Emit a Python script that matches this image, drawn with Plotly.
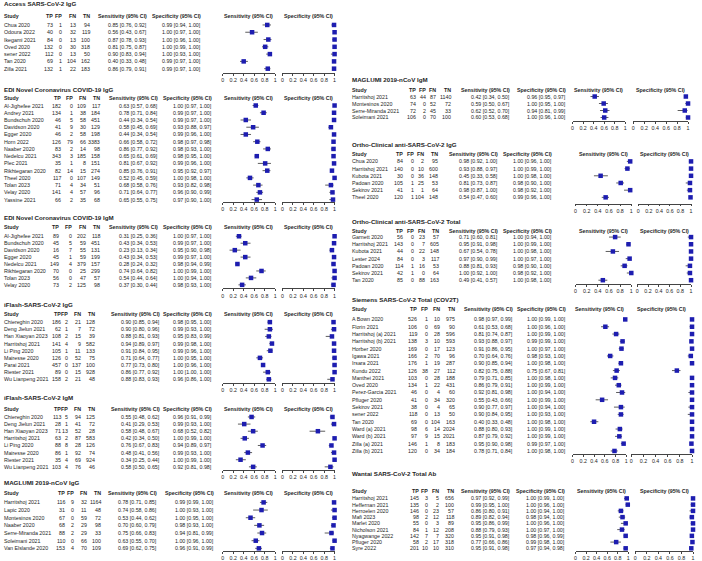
import plotly.graph_objects as go

W, H = 702, 561

# ---------------- DATA (study, TP, FP, FN, TN, sens, sens_lo, sens_hi, spec, spec_lo, spec_hi)
ACCESS_IGG = [
    ("Chua 2020", 73, 1, 13, 94, 0.85, 0.76, 0.92, 0.99, 0.94, 1.00),
    ("Odoura 2022", 40, 0, 32, 119, 0.56, 0.43, 0.67, 1.00, 0.97, 1.00),
    ("Ikegami 2021", 84, 0, 13, 100, 0.87, 0.78, 0.93, 1.00, 0.96, 1.00),
    ("Oved 2020", 132, 0, 30, 318, 0.81, 0.75, 0.87, 1.00, 0.99, 1.00),
    ("sener 2022", 112, 0, 13, 50, 0.90, 0.83, 0.94, 1.00, 0.93, 1.00),
    ("Tan 2020", 69, 1, 104, 162, 0.40, 0.33, 0.48, 0.99, 0.97, 1.00),
    ("Zilla 2021", 132, 1, 22, 183, 0.86, 0.79, 0.91, 0.99, 0.97, 1.00),
]
EDI_IGG = [
    ("Al-Jighefee 2021", 182, 0, 109, 117, 0.63, 0.57, 0.68, 1.00, 0.97, 1.00),
    ("Andrey 2021", 134, 1, 38, 184, 0.78, 0.71, 0.84, 0.99, 0.97, 1.00),
    ("Bundschuh 2020", 46, 5, 58, 451, 0.44, 0.34, 0.54, 0.99, 0.97, 1.00),
    ("Davidson 2020", 41, 9, 30, 129, 0.58, 0.45, 0.69, 0.93, 0.88, 0.97),
    ("Egger 2020", 46, 2, 58, 198, 0.44, 0.34, 0.54, 0.99, 0.96, 1.00),
    ("Horn 2022", 126, 79, 66, 3383, 0.66, 0.58, 0.72, 0.98, 0.97, 0.98),
    ("Naaber 2020", 83, 2, 14, 98, 0.86, 0.77, 0.92, 0.98, 0.93, 1.00),
    ("Nedelcu 2021", 343, 3, 185, 158, 0.65, 0.61, 0.69, 0.98, 0.95, 1.00),
    ("Plec 2021", 35, 1, 8, 151, 0.81, 0.67, 0.92, 0.99, 0.96, 1.00),
    ("Rikhtegaran 2020", 82, 14, 15, 274, 0.85, 0.76, 0.91, 0.95, 0.92, 0.97),
    ("Theel 2020", 117, 0, 107, 149, 0.52, 0.45, 0.59, 1.00, 0.98, 1.00),
    ("Tolan 2023", 71, 4, 34, 51, 0.68, 0.58, 0.76, 0.93, 0.82, 0.98),
    ("Velay 2020", 141, 4, 57, 96, 0.71, 0.64, 0.77, 0.96, 0.90, 0.99),
    ("Yassine 2021", 66, 2, 35, 68, 0.65, 0.55, 0.75, 0.97, 0.90, 1.00),
]
EDI_IGM = [
    ("Al-Jighefee 2021", 89, 0, 202, 118, 0.31, 0.25, 0.36, 1.00, 0.97, 1.00),
    ("Bundschuh 2020", 45, 5, 59, 451, 0.43, 0.34, 0.53, 0.99, 0.97, 1.00),
    ("Davidson 2020", 16, 7, 55, 131, 0.23, 0.13, 0.34, 0.95, 0.90, 0.98),
    ("Egger 2020", 45, 1, 59, 199, 0.43, 0.34, 0.53, 0.99, 0.97, 1.00),
    ("Nedelcu 2021", 149, 4, 379, 157, 0.28, 0.24, 0.32, 0.98, 0.94, 0.99),
    ("Rikhtegaran 2020", 70, 0, 25, 299, 0.74, 0.64, 0.82, 1.00, 0.99, 1.00),
    ("Tolan 2023", 56, 0, 47, 57, 0.54, 0.44, 0.64, 1.00, 0.94, 1.00),
    ("Velay 2020", 73, 2, 125, 98, 0.37, 0.30, 0.44, 0.98, 0.93, 1.00),
]
IFLASH_IGG = [
    ("Chiereghin 2020", 186, 2, 21, 128, 0.90, 0.85, 0.94, 0.98, 0.95, 1.00),
    ("Deng Jielun 2021", 62, 1, 7, 72, 0.90, 0.80, 0.96, 0.99, 0.93, 1.00),
    ("Han Xiaoyan 2023", 108, 2, 15, 39, 0.88, 0.81, 0.93, 0.95, 0.83, 0.99),
    ("Harritshoj 2021", 141, 4, 9, 582, 0.94, 0.89, 0.97, 0.99, 0.98, 1.00),
    ("Li Ping 2020", 105, 1, 11, 133, 0.91, 0.84, 0.95, 0.99, 0.96, 1.00),
    ("Mairesse 2020", 126, 0, 52, 75, 0.71, 0.64, 0.77, 1.00, 0.95, 1.00),
    ("Parai 2021", 457, 0, 137, 100, 0.77, 0.73, 0.80, 1.00, 0.96, 1.00),
    ("Riester 2021", 89, 0, 15, 928, 0.86, 0.77, 0.92, 1.00, 1.00, 1.00),
    ("Wu Lianpeng 2021", 158, 2, 21, 48, 0.88, 0.83, 0.93, 0.96, 0.86, 1.00),
]
IFLASH_IGM = [
    ("Chiereghin 2020", 113, 5, 94, 125, 0.55, 0.48, 0.62, 0.96, 0.91, 0.99),
    ("Deng Jielun 2021", 28, 1, 41, 72, 0.41, 0.29, 0.53, 0.99, 0.93, 1.00),
    ("Han Xiaoyan 2023", 71, 13, 52, 28, 0.58, 0.48, 0.67, 0.68, 0.52, 0.82),
    ("Harritshoj 2021", 63, 2, 87, 583, 0.42, 0.34, 0.50, 1.00, 0.99, 1.00),
    ("Li Ping 2020", 88, 8, 28, 126, 0.76, 0.67, 0.83, 0.94, 0.89, 0.97),
    ("Mairesse 2020", 86, 1, 92, 74, 0.48, 0.41, 0.56, 0.99, 0.93, 1.00),
    ("Riester 2021", 35, 4, 69, 924, 0.34, 0.25, 0.44, 1.00, 0.99, 1.00),
    ("Wu Lianpeng 2021", 103, 4, 76, 46, 0.58, 0.50, 0.65, 0.92, 0.81, 0.98),
]
MAGLUMI_IGG = [
    ("Harritshoj 2021", 116, 9, 32, 1164, 0.78, 0.71, 0.85, 0.99, 0.99, 1.00),
    ("Lapic 2020", 31, 0, 11, 48, 0.74, 0.58, 0.86, 1.00, 0.93, 1.00),
    ("Montesinos 2020", 67, 0, 59, 72, 0.53, 0.44, 0.62, 1.00, 0.95, 1.00),
    ("Naaber 2020", 68, 2, 29, 98, 0.70, 0.60, 0.79, 0.98, 0.93, 1.00),
    ("Serre-Miranda 2021", 88, 2, 29, 33, 0.75, 0.66, 0.83, 0.94, 0.81, 0.99),
    ("Soleimani 2021", 110, 0, 66, 100, 0.63, 0.55, 0.70, 1.00, 0.96, 1.00),
    ("Van Elslande 2020", 153, 4, 70, 109, 0.69, 0.62, 0.75, 0.96, 0.91, 0.99),
]
MAGLUMI_IGM = [
    ("Harritshoj 2021", 63, 44, 87, 1140, 0.42, 0.34, 0.50, 0.96, 0.95, 0.97),
    ("Montesinos 2020", 74, 0, 52, 72, 0.59, 0.50, 0.67, 1.00, 0.95, 1.00),
    ("Serre-Miranda 2021", 72, 2, 45, 33, 0.62, 0.52, 0.70, 0.94, 0.81, 0.99),
    ("Soleimani 2021", 106, 0, 70, 100, 0.60, 0.53, 0.68, 1.00, 0.96, 1.00),
]
ORTHO_IGG = [
    ("Chua 2020", 84, 0, 2, 95, 0.98, 0.92, 1.00, 1.00, 0.96, 1.00),
    ("Harritshoj 2021", 140, 0, 10, 600, 0.93, 0.88, 0.97, 1.00, 0.99, 1.00),
    ("Kubota 2021", 30, 0, 36, 148, 0.45, 0.33, 0.58, 1.00, 0.98, 1.00),
    ("Padoan 2020", 105, 1, 25, 53, 0.81, 0.73, 0.87, 0.98, 0.90, 1.00),
    ("Sekirov 2021", 41, 1, 1, 64, 0.98, 0.87, 1.00, 0.98, 0.92, 1.00),
    ("Theel 2020", 120, 1, 104, 148, 0.54, 0.47, 0.60, 0.99, 0.96, 1.00),
]
ORTHO_TOTAL = [
    ("Garnett 2020", 56, 0, 23, 57, 0.71, 0.60, 0.81, 1.00, 0.94, 1.00),
    ("Harritshoj 2021", 143, 0, 7, 605, 0.95, 0.91, 0.98, 1.00, 0.99, 1.00),
    ("Kubota 2021", 44, 0, 22, 148, 0.67, 0.54, 0.78, 1.00, 0.98, 1.00),
    ("Lester 2024", 84, 0, 3, 117, 0.97, 0.90, 0.99, 1.00, 0.97, 1.00),
    ("Padoan 2020", 114, 1, 16, 53, 0.88, 0.81, 0.93, 0.98, 0.90, 1.00),
    ("Sekirov 2021", 42, 1, 0, 64, 1.00, 0.92, 1.00, 0.98, 0.92, 1.00),
    ("Tan 2020", 85, 0, 88, 163, 0.49, 0.41, 0.57, 1.00, 0.98, 1.00),
]
SIEMENS_TOTAL = [
    ("A Bown 2020", 526, 1, 10, 975, 0.98, 0.97, 0.99, 1.00, 0.99, 1.00),
    ("Florin 2021", 106, 0, 69, 90, 0.61, 0.53, 0.68, 1.00, 0.96, 1.00),
    ("Harritshoj (a) 2021", 119, 0, 28, 596, 0.81, 0.74, 0.87, 1.00, 0.99, 1.00),
    ("Harritshoj (b) 2021", 138, 3, 10, 593, 0.93, 0.88, 0.97, 0.99, 0.99, 1.00),
    ("Horber 2020", 169, 0, 17, 123, 0.91, 0.86, 0.95, 1.00, 0.97, 1.00),
    ("Igawa 2021", 166, 2, 70, 96, 0.70, 0.64, 0.76, 0.98, 0.93, 1.00),
    ("Irsara 2021", 176, 1, 19, 287, 0.90, 0.85, 0.94, 1.00, 0.98, 1.00),
    ("Kundu 2022", 126, 38, 27, 112, 0.82, 0.75, 0.88, 0.75, 0.67, 0.81),
    ("Manthei 2021", 103, 0, 28, 188, 0.79, 0.71, 0.85, 1.00, 0.98, 1.00),
    ("Oved 2020", 134, 1, 22, 431, 0.86, 0.79, 0.91, 1.00, 0.99, 1.00),
    ("Perez-Garcia 2021", 46, 0, 4, 60, 0.92, 0.81, 0.98, 1.00, 0.94, 1.00),
    ("Pfluger 2020", 41, 0, 34, 320, 0.55, 0.43, 0.66, 1.00, 0.99, 1.00),
    ("Sekirov 2021", 38, 0, 4, 65, 0.90, 0.77, 0.97, 1.00, 0.94, 1.00),
    ("sener 2022", 118, 0, 13, 50, 0.90, 0.84, 0.95, 1.00, 0.93, 1.00),
    ("Tan 2020", 69, 0, 104, 163, 0.40, 0.33, 0.48, 1.00, 0.98, 1.00),
    ("Ward (a) 2021", 98, 6, 14, 2024, 0.88, 0.80, 0.93, 1.00, 0.99, 1.00),
    ("Ward (b) 2021", 97, 9, 15, 2021, 0.87, 0.79, 0.92, 1.00, 0.99, 1.00),
    ("Zilla (a) 2021", 146, 1, 8, 183, 0.95, 0.90, 0.98, 0.99, 0.97, 1.00),
    ("Zilla (b) 2021", 120, 0, 34, 184, 0.78, 0.71, 0.84, 1.00, 0.98, 1.00),
]
WANTAI_TOTAL = [
    ("Harritshoj 2021", 145, 3, 5, 656, 0.97, 0.92, 0.99, 1.00, 0.99, 1.00),
    ("Heffernan 2021", 135, 0, 2, 100, 0.99, 0.95, 1.00, 1.00, 0.96, 1.00),
    ("Herroelen 2020", 146, 0, 23, 57, 0.86, 0.80, 0.91, 1.00, 0.94, 1.00),
    ("Mafi 2023", 98, 2, 12, 118, 0.89, 0.82, 0.94, 0.98, 0.94, 1.00),
    ("Marlet 2020", 55, 0, 3, 89, 0.95, 0.86, 0.99, 1.00, 0.96, 1.00),
    ("Nicholson 2021", 84, 1, 12, 208, 0.88, 0.79, 0.93, 1.00, 0.97, 1.00),
    ("Nyagwange 2022", 142, 7, 7, 320, 0.95, 0.91, 0.98, 0.98, 0.96, 0.99),
    ("Pfluger 2020", 58, 2, 17, 318, 0.77, 0.66, 0.86, 0.99, 0.98, 1.00),
    ("Syre 2022", 201, 10, 10, 310, 0.95, 0.91, 0.98, 0.97, 0.94, 0.98),
]

TITLES = [
    "Access SARS-CoV-2 IgG", "EDI Novel Coronavirus COVID-19 IgG",
    "EDI Novel Coronavirus COVID-19 IgM", "iFlash-SARS-CoV-2 IgG",
    "iFlash-SARS-CoV-2 IgM", "MAGLUMI 2019-nCoV IgG", "MAGLUMI 2019-nCoV IgM",
    "Ortho-Clinical anti-SARS-CoV-2 IgG", "Ortho-Clinical anti-SARS-CoV-2 Total",
    "Siemens SARS-CoV-2 Total (COV2T)", "Wantai SARS-CoV-2 Total Ab",
]
DATASETS = [ACCESS_IGG, EDI_IGG, EDI_IGM, IFLASH_IGG, IFLASH_IGM, MAGLUMI_IGG,
            MAGLUMI_IGM, ORTHO_IGG, ORTHO_TOTAL, SIEMENS_TOTAL, WANTAI_TOTAL]
COL_HEADERS = ["TP", "FP", "FN", "TN"]
TICK_VALS = [0, 0.2, 0.4, 0.6, 0.8, 1]
TICK_TEXT = ["0", "0.2", "0.4", "0.6", "0.8", "1"]

# ---------------- LAYOUT (pixel positions of each panel)
# title_y, header_y, row0, row_h, axis_y, study_x, [tp,fp,fn,tn right], sens_r, spec_r, (sens axis x0,x1), (spec axis x0,x1)
POS = [
    (4, 16, 25.0, 7.3, 73, 2, [53, 62, 76, 90], 148, 202, (222.7, 275.3), (282.7, 335)),
    (90, 98, 105.7, 7.25, 202.5, 2, [61, 73, 86, 100.5], 159, 213, (222.7, 275.3), (282.7, 335)),
    (218, 227.5, 236.7, 6.95, 289, 2, [59, 72, 86, 100.5], 159, 213, (222.7, 275.3), (282.7, 335)),
    (305, 315, 322.7, 7.16, 383.5, 2, [61, 68, 81, 95], 160.7, 213, (222.7, 275.3), (282.7, 335)),
    (398.5, 410, 417.7, 7.14, 471, 2, [61, 68, 81, 95], 160.7, 213, (222.7, 275.3), (282.7, 335)),
    (483.5, 493.5, 503.3, 7.67, 552, 2, [65, 74.5, 87, 101], 158, 215, (222.7, 275.3), (282.7, 335)),
    (80, 90, 96.7, 7.0, 121, 352, [418, 427.5, 438, 453], 512, 568, (574, 627), (635, 690)),
    (145, 154, 161.7, 7.2, 204, 352, [405, 415.5, 426, 440], 500, 554, (577, 633), (640, 693)),
    (221.7, 231.7, 237.5, 7.2, 284.5, 352, [405, 416, 427, 441], 500, 554, (577, 633), (639, 693)),
    (300, 310, 320, 7.32, 455, 352, [419, 430, 442, 457], 515, 568, (574, 628), (633, 694)),
    (474.3, 491.7, 499.3, 6.25, 552, 352, [421, 430, 441, 456], 512, 567, (577, 630), (637, 695)),
]

FONT = "Arial, Liberation Sans, sans-serif"
TXT = "#1e1e1e"
BLUE = "#1d1db0"
FS = 5.3
FS_TITLE = 6.2

def px(x):
    return x / W

def py(y):
    return 1 - y / H

annotations = []

def txt(x, y, s, anchor="left", bold=False, size=FS):
    annotations.append(dict(
        x=px(x), y=py(y), xref="paper", yref="paper",
        text=f"<b>{s}</b>" if bold else s, showarrow=False,
        xanchor=anchor, yanchor="middle", borderpad=0,
        font=dict(size=size, color=TXT, family=FONT)))

def ci(v, lo, hi):
    return f"{v:.2f} [{lo:.2f}, {hi:.2f}]"

fig = go.Figure()
layout_axes = {}

for k, (title, rows, pos) in enumerate(zip(TITLES, DATASETS, POS)):
    (ty, hy, r0, rh, ay, sx, cols, sens_r, spec_r, sax, spx) = pos
    txt(sx, ty, title, bold=True, size=FS_TITLE)
    txt(sx, hy, "Study", bold=True)
    for cx, ch in zip(cols, COL_HEADERS):
        txt(cx, hy, ch, anchor="right", bold=True)
    txt(sens_r, hy, "Sensitivity (95% CI)", anchor="right", bold=True)
    txt(spec_r, hy, "Specificity (95% CI)", anchor="right", bold=True)
    txt((sax[0] + sax[1]) / 2, hy, "Sensitivity (95% CI)", anchor="center", bold=True)
    txt((spx[0] + spx[1]) / 2, hy, "Specificity (95% CI)", anchor="center", bold=True)

    for i, r in enumerate(rows):
        y = r0 + i * rh
        txt(sx, y, r[0])
        for cx, v in zip(cols, r[1:5]):
            txt(cx, y, str(v), anchor="right")
        txt(sens_r, y, ci(r[5], r[6], r[7]), anchor="right")
        txt(spec_r, y, ci(r[8], r[9], r[10]), anchor="right")

    n = len(rows)
    top = r0 - rh * 0.6
    yt = (top - r0) / rh
    yb = yt + (ay - top) / rh
    idx = list(range(n))
    for j, (axx, vi) in enumerate([(sax, 5), (spx, 8)]):
        a = 2 * k + j + 1
        xname = "x" if a == 1 else f"x{a}"
        yname = "y" if a == 1 else f"y{a}"
        vals = [r[vi] for r in rows]
        lo = [r[vi] - r[vi + 1] for r in rows]
        hi = [r[vi + 2] - r[vi] for r in rows]
        fig.add_trace(go.Scatter(
            x=vals, y=idx, xaxis=xname, yaxis=yname, mode="markers",
            marker=dict(symbol="square", size=4.5, color=BLUE, line=dict(width=0)),
            error_x=dict(type="data", symmetric=False, array=hi, arrayminus=lo,
                         width=0, thickness=0.8, color="#333333"),
            cliponaxis=False, showlegend=False, hoverinfo="skip"))
        layout_axes["xaxis" if a == 1 else f"xaxis{a}"] = dict(
            domain=[px(axx[0]), px(axx[1])], range=[0, 1], anchor=yname,
            showline=True, linecolor="#444444", linewidth=0.7,
            ticks="outside", ticklen=2, tickwidth=0.7, tickcolor="#444444",
            tickvals=TICK_VALS, ticktext=TICK_TEXT, tickangle=0,
            tickfont=dict(size=FS, color=TXT, family=FONT),
            showgrid=False, zeroline=False, fixedrange=True)
        layout_axes["yaxis" if a == 1 else f"yaxis{a}"] = dict(
            domain=[py(ay), py(top)], range=[yb, yt], anchor=xname,
            visible=False, showgrid=False, zeroline=False, fixedrange=True)

fig.update_layout(
    width=W, height=H, margin=dict(l=0, r=0, t=0, b=0),
    paper_bgcolor="white", plot_bgcolor="white",
    annotations=annotations, showlegend=False,
    font=dict(family=FONT, size=FS, color=TXT),
    **layout_axes)

fig.write_html(
    "out.html",
    config={"displayModeBar": False},
    post_script="document.body.style.margin='0';document.body.style.overflow='hidden';",
)
